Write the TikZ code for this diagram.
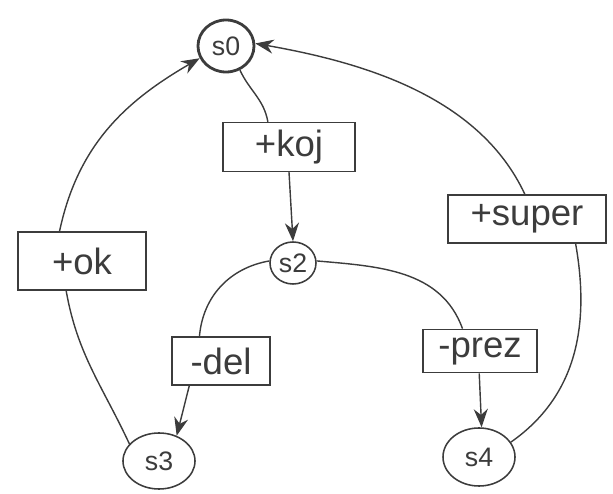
\documentclass[tikz,border=0pt]{standalone}
\usepackage{fontspec}
\setmainfont{Liberation Sans}
\usepackage{tikz}
\usetikzlibrary{arrows.meta, shapes.geometric}
\definecolor{pencil}{RGB}{60, 60, 60}

\begin{document}
\begin{tikzpicture}[x=0.025cm, y=0.025cm,
  state/.style={ellipse, draw=pencil, text=pencil, line width=1.1pt, inner sep=0pt,
    font=\fontsize{19}{21}\selectfont},
  tag/.style={rectangle, draw=pencil, text=pencil, fill=white, line width=1.1pt, inner sep=0pt,
    font=\fontsize{26}{28}\selectfont},
  edge/.style={pencil, line width=1pt},
  arr/.style={edge, -{Stealth[length=13pt, width=10pt]}}]
  \useasboundingbox (0,0) rectangle (613,494);
  \node[state, line width=2pt, minimum width=1.4cm, minimum height=1.3cm] (s0) at (226,448) {s0};
  \node[state, minimum width=1.15cm, minimum height=1.05cm] (s2) at (293,231) {s2};
  \node[state, minimum width=1.8cm, minimum height=1.4cm] (s3) at (159,33) {s3};
  \node[state, minimum width=1.8cm, minimum height=1.45cm] (s4) at (479,37) {s4};
  \node[tag, minimum width=3.3cm, minimum height=1.22cm] (koj) at (289,347) {+koj};
  \node[tag, minimum width=3.2cm, minimum height=1.45cm] (ok) at (82,233) {+ok};
  \node[tag, minimum width=3.95cm, minimum height=1.2cm] (super) at (527,275) {+super};
  \node[tag, minimum width=2.45cm, minimum height=1.2cm] (del) at (221,133) {-del};
  \node[tag, minimum width=2.85cm, minimum height=1.08cm] (prez) at (480,143) {-prez};
  \draw[edge] (s0.-60) to[out=-65, in=100] (koj.130);
  \draw[arr] (koj.south) -- (s2.north);
  \draw[edge] (s2.175) to[out=190, in=85] (del.131);
  \draw[arr] (del.-142) -- (s3.55);
  \draw[edge] (s2.5) to[out=-5, in=110] (prez.128);
  \draw[arr] (prez.-92) -- (s4.85);
  \draw[edge] (s3.150) to[out=115, in=-80] (ok.-118);
  \draw[arr] (ok.127) to[out=78, in=210] (s0.205);
  \draw[edge] (s4.25) to[out=35, in=-80] (super.-27);
  \draw[arr] (super.95) to[out=115, in=-10, looseness=0.9] (s0.5);
\end{tikzpicture}
\end{document}
